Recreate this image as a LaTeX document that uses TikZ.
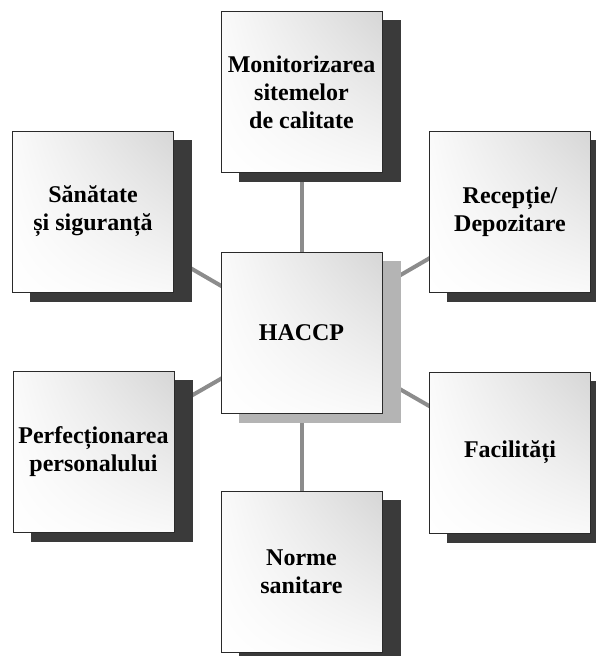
\documentclass[tikz,border=0pt]{standalone}
\usepackage{fontspec}
\setmainfont{Liberation Serif}
\usetikzlibrary{calc,shadings}
\pgfdeclarelayer{paper}
\pgfdeclarelayer{linklayer}
\pgfdeclarelayer{shadowlayer}
\pgfsetlayers{paper,linklayer,shadowlayer,main}
\definecolor{shadowdark}{HTML}{3A3A3A}
\definecolor{shadowlight}{HTML}{B4B4B4}
\definecolor{linkgray}{HTML}{8C8C8C}
\definecolor{boxedge}{HTML}{2A2A2A}
\definecolor{boxgray}{HTML}{D6D6D6}
\tikzset{
  topic/.style={draw=boxedge, line width=1pt, minimum width=161pt, minimum height=161pt,
    inner sep=0pt, align=center, font=\bfseries\fontsize{24}{28}\selectfont,
    upper left=white!88!boxgray, upper right=boxgray, lower left=white, lower right=white!85!boxgray},
  link/.style={draw=linkgray, line width=4pt},
}
\newcommand{\boxshadow}[2]{%
  \fill[#2] ($(#1.south west)+(18pt,-9pt)$) rectangle ($(#1.north east)+(18pt,-9pt)$);}
\begin{document}
\begin{tikzpicture}[x=1pt,y=1pt]
\useasboundingbox (0,0) rectangle (596,-656);
\begin{pgfonlayer}{paper}
  \fill[white] (0,0) rectangle (596,-656);
\end{pgfonlayer}
% the seven topic boxes
\node[topic] (mon) at (301.5,-92)    {Monitorizarea\\sitemelor\\de calitate};
\node[topic] (san) at (93,-211.5)    {Sănătate\\și siguranță};
\node[topic] (rec) at (510,-211.5)   {Recepție/\\Depozitare};
\node[topic] (hac) at (301.5,-332.5) {HACCP};
\node[topic] (per) at (93.5,-452)    {Perfecționarea\\personalului};
\node[topic] (fac) at (510,-452.5)   {Facilități};
\node[topic] (nor) at (301.5,-572)   {Norme\\sanitare};
% offset shadows
\begin{pgfonlayer}{shadowlayer}
  \boxshadow{mon}{shadowdark}
  \boxshadow{san}{shadowdark}
  \boxshadow{rec}{shadowdark}
  \boxshadow{hac}{shadowlight}
  \boxshadow{per}{shadowdark}
  \boxshadow{fac}{shadowdark}
  \boxshadow{nor}{shadowdark}
\end{pgfonlayer}
% spokes from the centre box
\begin{pgfonlayer}{linklayer}
  \foreach \t in {mon,san,rec,per,fac,nor}
    \draw[link] (hac.center) -- (\t.center);
\end{pgfonlayer}
\end{tikzpicture}
\end{document}
